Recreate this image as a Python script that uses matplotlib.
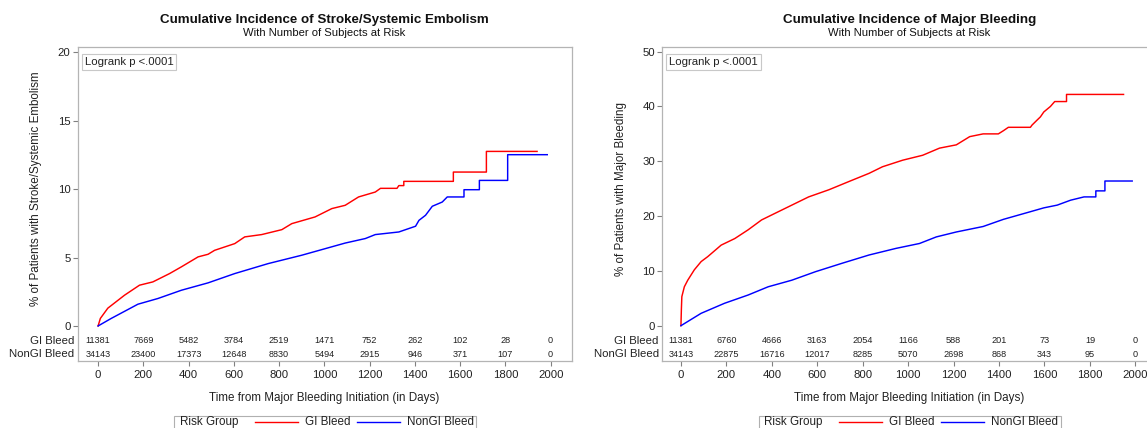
import matplotlib
matplotlib.use("Agg")
import matplotlib.pyplot as plt
from matplotlib.lines import Line2D
from matplotlib.patches import Rectangle

plt.rcParams['font.family'] = ['Liberation Sans', 'DejaVu Sans']

W, H = 1147, 428

# at-risk table
risk_days = [0, 200, 400, 600, 800, 1000, 1200, 1400, 1600, 1800, 2000]
stroke_gi_risk = [11381, 7669, 5482, 3784, 2519, 1471, 752, 262, 102, 28, 0]
stroke_nongi_risk = [34143, 23400, 17373, 12648, 8830, 5494, 2915, 946, 371, 107, 0]
bleed_gi_risk = [11381, 6760, 4666, 3163, 2054, 1166, 588, 201, 73, 19, 0]
bleed_nongi_risk = [34143, 22875, 16716, 12017, 8285, 5070, 2698, 868, 343, 95, 0]

# cumulative incidence curves (days, %)
stroke_gi_t = [0, 10, 43, 117, 183, 242, 316, 368, 442, 486, 515, 604, 648, 723, 812, 856,
               959, 1033, 1092, 1151, 1225, 1248, 1321, 1329, 1351, 1351, 1570, 1570,
               1716, 1716, 1940]
stroke_gi_v = [0, 0.55, 1.3, 2.25, 2.98, 3.22, 3.83, 4.32, 5.05, 5.24, 5.53, 6.02, 6.51, 6.68,
               7.04, 7.48, 7.97, 8.58, 8.82, 9.43, 9.79, 10.06, 10.06, 10.26, 10.26, 10.57,
               10.57, 11.25, 11.25, 12.76, 12.76]
stroke_nongi_t = [0, 58, 176, 265, 368, 486, 604, 752, 900, 1092, 1181, 1225, 1329, 1403,
                  1418, 1447, 1477, 1521, 1543, 1617, 1617, 1685, 1685, 1810, 1810, 1985]
stroke_nongi_v = [0, 0.55, 1.59, 2.01, 2.61, 3.15, 3.83, 4.56, 5.17, 6.06, 6.39, 6.68, 6.87,
                  7.29, 7.72, 8.09, 8.75, 9.06, 9.43, 9.43, 9.96, 9.96, 10.64, 10.64, 12.52,
                  12.52]

bleed_gi_t = [0, 2, 4, 15, 30, 59, 89, 118, 177, 237, 296, 355, 414, 488, 562, 651, 739, 828,
              887, 976, 1064, 1138, 1212, 1271, 1330, 1397, 1420, 1441, 1538, 1545, 1567,
              1582, 1597, 1626, 1645, 1697, 1697, 1948]
bleed_gi_v = [0, 3.0, 5.3, 7.1, 8.3, 10.2, 11.7, 12.6, 14.7, 15.9, 17.5, 19.3, 20.5, 22.0,
              23.5, 24.8, 26.3, 27.8, 29.0, 30.2, 31.1, 32.4, 33.0, 34.5, 35.0, 35.0, 35.6,
              36.2, 36.2, 36.6, 37.5, 38.1, 39.0, 40.0, 40.9, 40.9, 42.2, 42.2]
bleed_nongi_t = [0, 89, 192, 296, 384, 488, 592, 710, 828, 946, 1050, 1124, 1212, 1330, 1419,
                 1538, 1597, 1656, 1715, 1774, 1826, 1826, 1866, 1866, 1986]
bleed_nongi_v = [0, 2.26, 4.09, 5.6, 7.1, 8.3, 9.85, 11.4, 12.9, 14.1, 15.0, 16.2, 17.1, 18.1,
                 19.4, 20.8, 21.5, 22.0, 22.9, 23.5, 23.5, 24.6, 24.6, 26.4, 26.4]

RED = '#ff0000'
BLUE = '#0000ff'
FRAME = '#b4b4b4'
TXT = '#222222'


def fx(px):
    return px / W


def fy(py):
    return 1 - py / H


def panel(fig, left_px, xlim, ylim, yticks, title, ylabel, gi_t, gi_v, ngi_t, ngi_v,
          gi_risk, ngi_risk):
    top_px, bot_px, width_px = 47.3, 360.7, 494.2
    ax = fig.add_axes([fx(left_px), fy(bot_px), width_px / W, (bot_px - top_px) / H])
    ax.plot(gi_t, gi_v, color=RED, lw=1.05)
    ax.plot(ngi_t, ngi_v, color=BLUE, lw=1.05)
    ax.set_xlim(*xlim)
    ax.set_ylim(*ylim)
    ax.set_xticks(risk_days)
    ax.set_yticks(yticks)
    for s in ax.spines.values():
        s.set_color(FRAME)
        s.set_linewidth(0.9)
    ax.tick_params(direction='out', length=3.6, width=0.8, color='#808080',
                   labelsize=8.2, labelcolor=TXT)
    ax.tick_params(axis='x', pad=3.3)
    ax.tick_params(axis='y', pad=1.5)

    # at-risk numbers inside frame
    for d, a, b in zip(risk_days, gi_risk, ngi_risk):
        ax.text(d, 0.063, str(a), transform=ax.get_xaxis_transform(), ha='center',
                va='center', fontsize=6.6, color=TXT)
        ax.text(d, 0.020, str(b), transform=ax.get_xaxis_transform(), ha='center',
                va='center', fontsize=6.6, color=TXT)
    ax.text(-0.007, 0.063, 'GI Bleed', transform=ax.transAxes, ha='right', va='center',
            fontsize=8.2, color=TXT)
    ax.text(-0.007, 0.020, 'NonGI Bleed', transform=ax.transAxes, ha='right', va='center',
            fontsize=8.2, color=TXT)

    ax.text(0.0142, 0.9697, 'Logrank p <.0001', transform=ax.transAxes, ha='left', va='top',
            fontsize=8.2, color=TXT,
            bbox=dict(boxstyle='square,pad=0.25', fc='white', ec='#c8c8c8', lw=0.8))

    cx = left_px + width_px / 2
    fig.text(fx(cx), fy(20.5), title, ha='center', va='center', fontsize=9.6,
             fontweight='bold', color='#111111')
    fig.text(fx(cx), fy(33.5), 'With Number of Subjects at Risk', ha='center', va='center',
             fontsize=8.1, color='#111111')
    fig.text(fx(left_px - 41.5), fy(189), ylabel, rotation=90, ha='center', va='center',
             fontsize=8.4, color=TXT)
    fig.text(fx(cx), fy(397.5), 'Time from Major Bleeding Initiation (in Days)', ha='center',
             va='center', fontsize=8.4, color=TXT)

    # legend box
    ly = 422
    fig.patches.append(Rectangle((fx(cx - 150.5), fy(445)), 302 / W, (445 - 416.5) / H,
                                 transform=fig.transFigure, fc='white', ec='#b0b0b0',
                                 lw=0.8))
    fig.text(fx(cx - 145), fy(ly), 'Risk Group', ha='left', va='center', fontsize=8.4,
             color=TXT)
    fig.add_artist(Line2D([fx(cx - 70), fx(cx - 27)], [fy(ly), fy(ly)], color=RED, lw=1.0,
                          transform=fig.transFigure))
    fig.text(fx(cx - 20), fy(ly), 'GI Bleed', ha='left', va='center', fontsize=8.4,
             color=TXT)
    fig.add_artist(Line2D([fx(cx + 32), fx(cx + 75)], [fy(ly), fy(ly)], color=BLUE, lw=1.0,
                          transform=fig.transFigure))
    fig.text(fx(cx + 82), fy(ly), 'NonGI Bleed', ha='left', va='center', fontsize=8.4,
             color=TXT)
    return ax


fig = plt.figure(figsize=(W / 100, H / 100), dpi=100)

panel(fig, 77.5, (-91, 2093), (-2.54, 20.37), [0, 5, 10, 15, 20],
      'Cumulative Incidence of Stroke/Systemic Embolism',
      '% of Patients with Stroke/Systemic Embolism',
      stroke_gi_t, stroke_gi_v, stroke_nongi_t, stroke_nongi_v,
      stroke_gi_risk, stroke_nongi_risk)

panel(fig, 662.3, (-82, 2093), (-6.39, 50.8), [0, 10, 20, 30, 40, 50],
      'Cumulative Incidence of Major Bleeding',
      '% of Patients with Major Bleeding',
      bleed_gi_t, bleed_gi_v, bleed_nongi_t, bleed_nongi_v,
      bleed_gi_risk, bleed_nongi_risk)

fig.savefig('out.png', dpi=100)
